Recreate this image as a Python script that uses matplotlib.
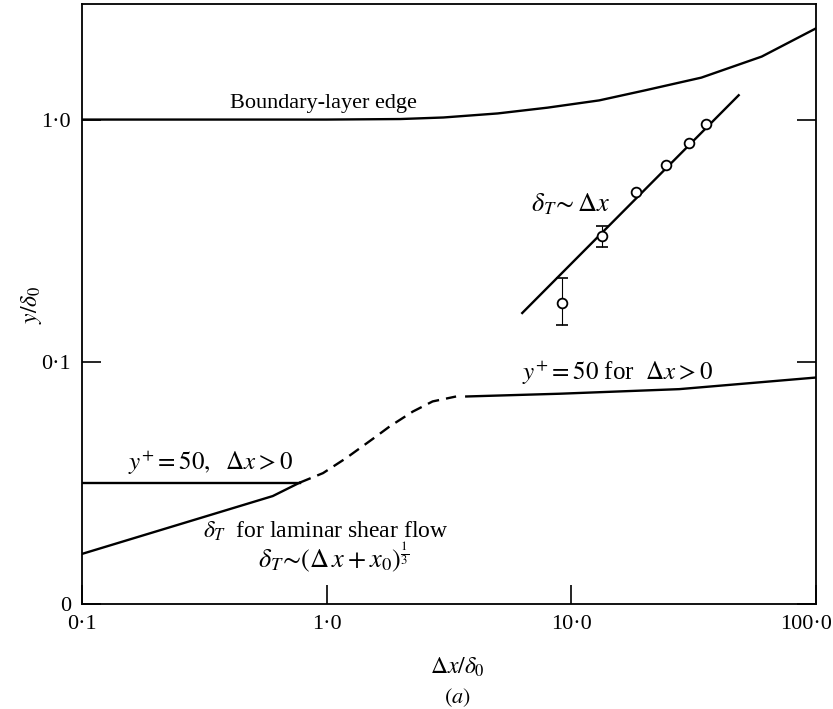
import matplotlib
matplotlib.use("Agg")
import matplotlib.pyplot as plt
import matplotlib.transforms as mtransforms
import numpy as np

# boundary-layer edge
edge_x = [0.1, 1.0, 2.0, 3.0, 5.0, 8.0, 13.0, 20.0, 34.0, 60.0, 100.0]
edge_y = [1.0, 1.0, 1.005, 1.02, 1.06, 1.12, 1.2, 1.32, 1.49, 1.82, 2.38]

# laminar shear flow thickness (solid part)
lam_x = [0.1, 0.602, 0.776]
lam_y = [0.0161, 0.0279, 0.0317]

# transition (dashed)
trans_x = [0.776, 0.966, 1.20, 1.59, 1.81, 2.25, 2.71, 3.38]
trans_y = [0.0317, 0.0347, 0.0400, 0.0491, 0.0541, 0.0623, 0.0686, 0.0719]

# y+ = 50 lines
yp_left_x = [0.1, 0.776]
yp_left_y = [0.0317, 0.0317]
yp_right_x = [3.72, 8.93, 27.6, 100.0]
yp_right_y = [0.0719, 0.0738, 0.0771, 0.0861]

# delta_T ~ dx fit line
fit_x = [6.3, 48.3]
fit_y = [0.159, 1.26]

# measured points
pts_x = [9.16, 13.3, 18.3, 24.4, 30.2, 35.6]
pts_y = [0.175, 0.33, 0.50, 0.65, 0.80, 0.96]
err_x = [9.16, 13.3]
err_y = [0.175, 0.33]
err_lo = [0.142, 0.297]
err_hi = [0.222, 0.364]

plt.rcParams['font.family'] = ['Liberation Serif', 'DejaVu Serif']
plt.rcParams['mathtext.fontset'] = 'stix'

fig = plt.figure(figsize=(8.33, 7.09), dpi=100)
ax = fig.add_axes([82/833, 1 - 604/709, (816-82)/833, (604-4)/709])
ax.set_xscale('log')
ax.set_yscale('log')
ax.set_xlim(0.1, 100)
ax.set_ylim(0.01, 3.0)

lw = 1.7
ax.plot(edge_x, edge_y, color='black', lw=lw)
ax.plot(lam_x, lam_y, color='black', lw=lw)
ax.plot(trans_x, trans_y, color='black', lw=lw, dashes=(5, 3))
ax.plot(yp_left_x, yp_left_y, color='black', lw=lw)
ax.plot(yp_right_x, yp_right_y, color='black', lw=lw)
ax.plot(fit_x, fit_y, color='black', lw=lw)

lo = np.array(err_y) - np.array(err_lo)
hi = np.array(err_hi) - np.array(err_y)
ax.errorbar(err_x, err_y, yerr=[lo, hi], fmt='none', ecolor='black',
            elinewidth=0.8, capsize=4, capthick=1.2)
ax.plot(pts_x, pts_y, 'o', ms=7, mfc='white', mec='black', mew=1.3)

fs = 17
ax.text(0.402, 1.06, 'Boundary-layer edge', fontsize=fs - 1, va='bottom')
ax.text(6.87, 0.417, r'$\delta_T\!\sim\Delta x$', fontsize=fs + 2, va='baseline')
ax.text(6.3, 0.0843, r'$y^{+}=50$ for  $\Delta x>0$', fontsize=fs + 1, va='baseline')
ax.text(0.154, 0.0358, r'$y^{+}=50,\ \ \Delta x>0$', fontsize=fs + 1, va='baseline')
ax.text(0.312, 0.01875, r'$\delta_T$  for laminar shear flow', fontsize=fs, va='baseline')
ax.text(0.523, 0.0141, r'$\delta_T\!\sim\!(\Delta\,x+x_0)^{\frac{1}{3}}$', fontsize=fs + 2, va='baseline')

ax.set_xticks([0.1, 1.0, 10.0, 100.0])
ax.set_xticklabels(['0·1', '1·0', '10·0', '100·0'], fontsize=16)
ax.set_yticks([0.01, 0.1, 1.0])
ax.set_yticklabels(['0', '0·1', '1·0'], fontsize=16)
ax.minorticks_off()
ax.tick_params(direction='in', length=14, width=1.2, right=True, pad=8)
last = ax.get_xticklabels()[-1]
last.set_transform(last.get_transform() + mtransforms.ScaledTranslation(-10/100, 0, fig.dpi_scale_trans))
for s in ax.spines.values():
    s.set_linewidth(1.3)

ax.set_xlabel(r'$\Delta x/\delta_0$', fontsize=17, va='center')
ax.xaxis.set_label_coords((457-82)/734, -(667-604)/600)
ax.set_ylabel(r'$y/\delta_0$', fontsize=17, va='center')
ax.yaxis.set_label_coords((32-82)/734, (604-305)/600)
fig.text(457/833, 1 - 698/709, r'$(a)$', fontsize=16, ha='center', va='center')

fig.savefig('out.png', dpi=100)
